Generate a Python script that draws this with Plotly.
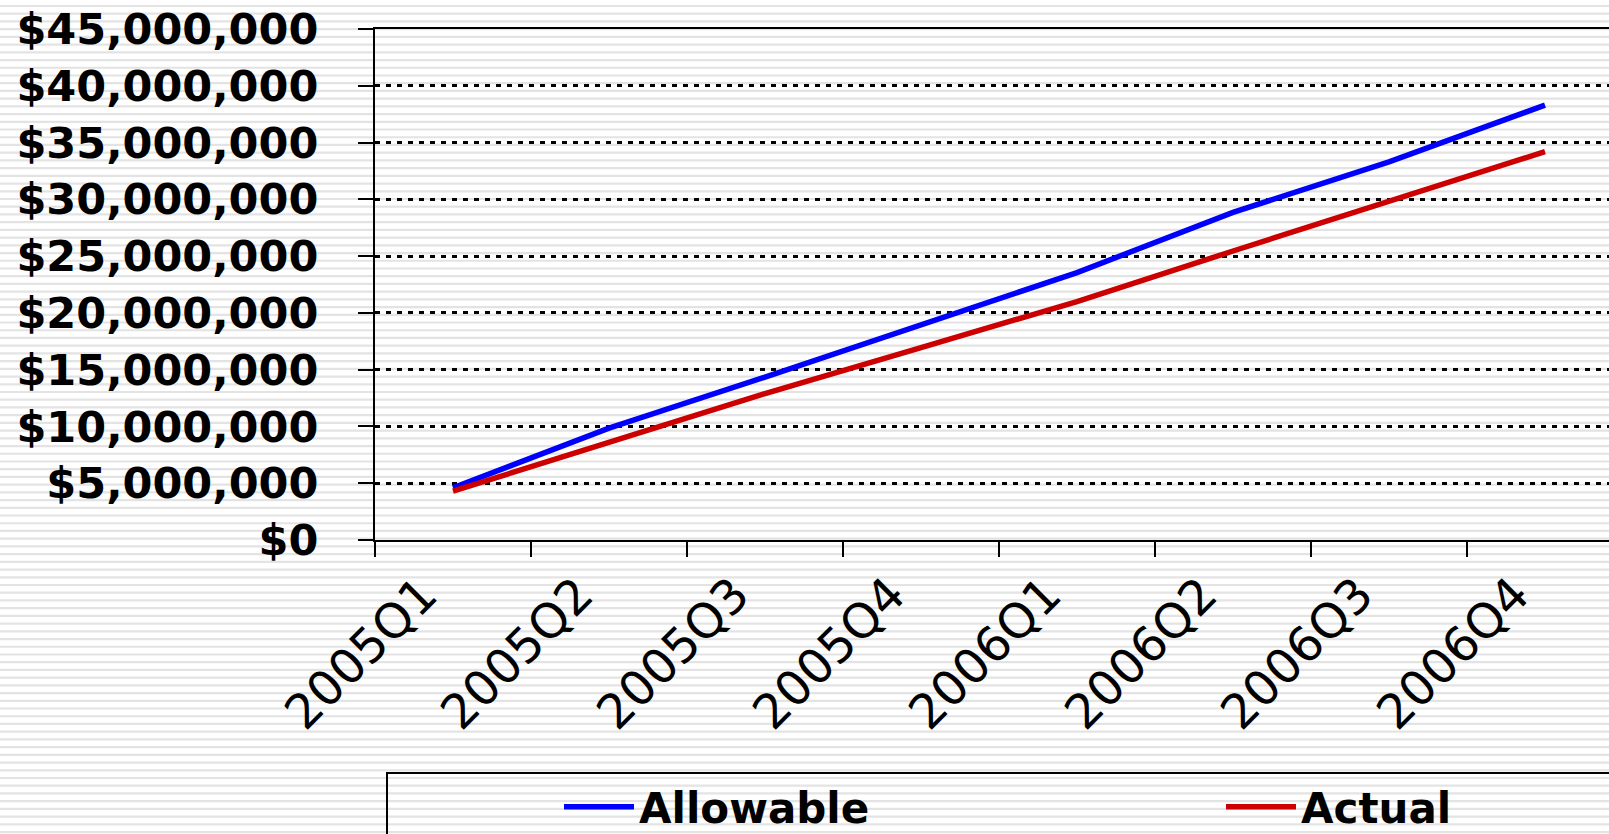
import plotly.graph_objects as go

# ---- data ----
quarters = ["2005Q1", "2005Q2", "2005Q3", "2005Q4", "2006Q1", "2006Q2", "2006Q3", "2006Q4"]
allowable = [4600000, 9850000, 14350000, 18900000, 23550000, 28850000, 33300000, 38300000]
actual = [4300000, 8600000, 12900000, 16950000, 21000000, 25450000, 29850000, 34200000]
y_ticks = [0, 5000000, 10000000, 15000000, 20000000, 25000000, 30000000, 35000000, 40000000, 45000000]

# ---- geometry (body margin is removed by the post script, so page coords = figure coords) ----
W, H = 1609, 834
L, T = 375, 29
B = H - 540
R = 0
pw = W - L - R
ph = H - T - B
cat_px = 156.0


def px_x(page_x):
    return (page_x - L) / pw


def px_y(page_y):
    return (H - B - page_y) / ph


# striped background (decoration)
segs = []
yy = 6.0
while yy < 840:
    segs.append(f"M{px_x(-5):.5f},{px_y(yy):.5f}L{px_x(1620):.5f},{px_y(yy):.5f}")
    yy += 7.72
stripe_path = "".join(segs)

fig = go.Figure()
fig.add_trace(go.Scatter(x=quarters, y=allowable, name="Allowable", mode="lines",
                         line=dict(color="#0000FF", width=5.5), legendwidth=405))
fig.add_trace(go.Scatter(x=quarters, y=actual, name="Actual", mode="lines",
                         line=dict(color="#CC0000", width=5.5)))

fig.update_layout(
    width=W, height=H, autosize=False,
    margin=dict(l=L, r=R, t=T, b=B, pad=0, autoexpand=False),
    paper_bgcolor="white", plot_bgcolor="rgba(0,0,0,0)",
    font=dict(family="DejaVu Sans", color="black"),
    showlegend=True,
    legend=dict(orientation="h", x=px_x(387), xanchor="left", y=px_y(773), yanchor="top",
                borderwidth=0, bgcolor="rgba(0,0,0,0)",
                font=dict(family="DejaVu Sans", size=42, weight="bold", color="black"),
                itemwidth=70, indentation=172, traceorder="normal"),
    xaxis=dict(type="category", categoryorder="array", categoryarray=quarters,
               range=[-0.5, -0.5 + pw / cat_px],
               tickson="boundaries", ticks="outside", ticklen=15, tickwidth=1.5, tickcolor="black",
               showline=True, linecolor="black", linewidth=2, mirror=True,
               showgrid=False, zeroline=False, tickangle=-45,
               tickfont=dict(family="DejaVu Sans", size=48, color="black"),
               ticklabelshift=-30, ticklabelstandoff=5, ticklabeloverflow="allow",
               automargin=False, fixedrange=True),
    yaxis=dict(range=[0, 45000000], tickvals=y_ticks, tickformat="$,.0f",
               ticks="outside", ticklen=15, tickwidth=2, tickcolor="black",
               showline=True, linecolor="black", linewidth=2,
               showgrid=True, gridcolor="black", gridwidth=2.5, griddash="5px,6px",
               zeroline=False,
               tickfont=dict(family="DejaVu Sans", size=43, weight="bold", color="black"),
               ticklabelstandoff=31, ticklabeloverflow="allow",
               automargin=False, fixedrange=True),
    shapes=[
        dict(type="path", xref="paper", yref="paper", path=stripe_path,
             line=dict(color="#e3e3e3", width=2.2), layer="below"),
        # legend frame (runs off the right and bottom edges, as in the reference)
        dict(type="rect", xref="paper", yref="paper",
             x0=px_x(387), y0=px_y(773), x1=px_x(1640), y1=px_y(860),
             line=dict(color="black", width=2), fillcolor="rgba(0,0,0,0)", layer="below"),
    ],
)

fig.write_html("out.html", config={"displayModeBar": False},
               post_script="document.body.style.margin='0';document.body.style.overflow='hidden';")
